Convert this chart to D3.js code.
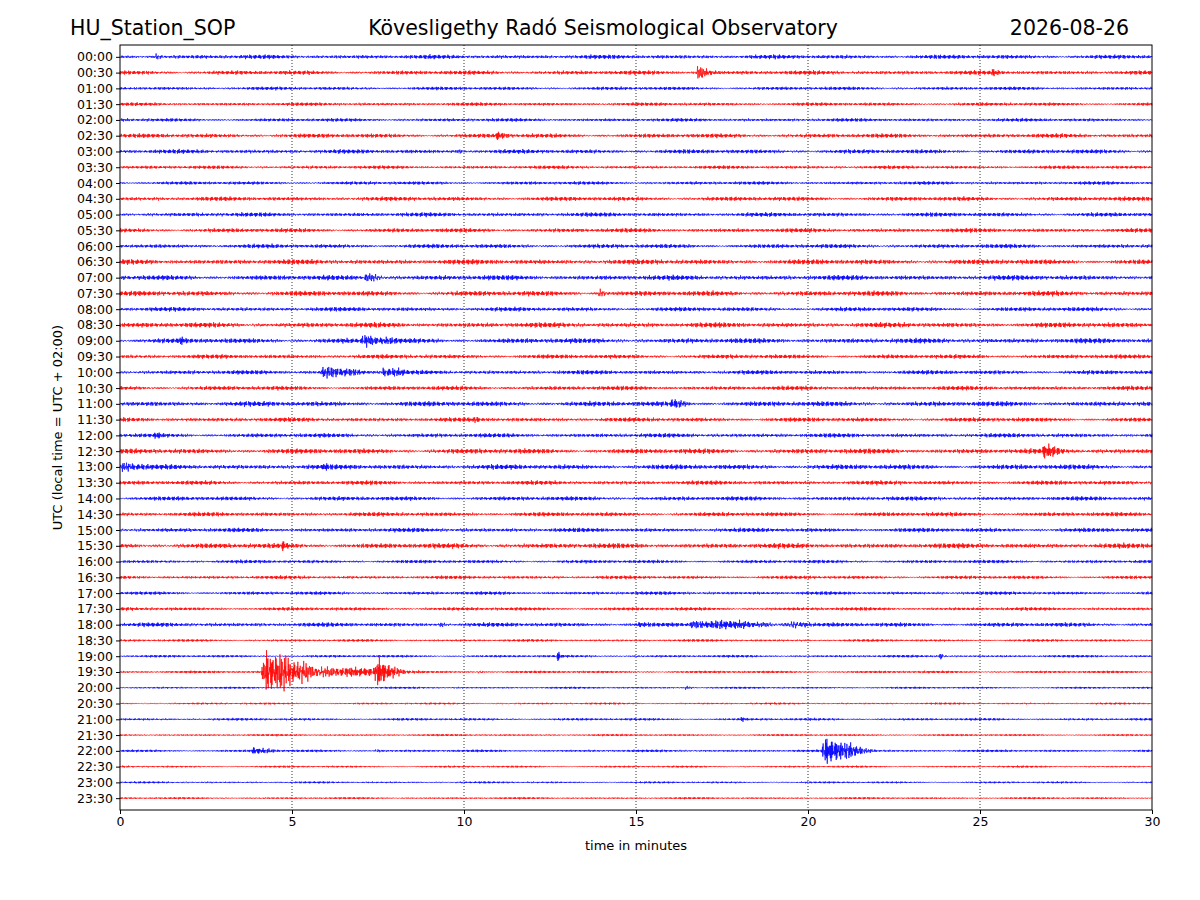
<!DOCTYPE html>
<html><head><meta charset="utf-8">
<script src="https://cdn.jsdelivr.net/npm/d3@7"></script>
<style>body{margin:0;background:#fff}text{font-family:"DejaVu Sans",sans-serif}</style>
</head><body><div id="chart"></div>
<script>
// row labels (UTC), every 30 minutes
var rowLabels = d3.range(48).map(function(i){return d3.format("02")(Math.floor(i/2))+":"+(i%2?"30":"00");});
var xTicks = [0,5,10,15,20,25,30];
// background noise level per row (pixels)
var noiseLevel = [2.5,2.5,2,2,2,2.5,2.5,2,2,2.5,2.5,2.5,2.5,3,3,3,2.5,3,3,2.5,2.5,2.5,3,2.5,
                  2.5,3,3,2.5,2.5,2.5,2.5,3,2,2,2,2,2.5,1.5,1.5,1.5,1.2,1.2,1.5,1.2,1.5,1.2,1.2,1.2];
// events: row index, start minute, peak amplitude (px), duration (min), decay power
var events = [
  [0,1.0,4,0.4,2],[1,16.75,13,0.8,2],[1,25.3,4,0.4,2],[5,10.9,6,0.6,2],[6,9.8,4,0.3,2],
  [14,7.1,9,0.9,2],[15,13.9,9,0.5,2],[18,7.0,6,1.3,1],[18,1.7,4,0.3,2],
  [20,5.8,8,1.5,1],[20,7.6,7,0.8,1],[22,16.0,6,0.8,2],[23,10.3,6,0.2,2],[24,1.0,4,0.3,2],
  [25,26.8,6,0.8,1],[26,0.0,6,0.8,1],[26,5.9,6,0.2,2],[31,4.7,6,0.3,2],
  [36,9.3,6,0.2,2],[36,15.0,4,0.5,2],[36,16.5,4,3.5,0.5],[36,19.5,6,0.6,1],
  [38,12.7,8,0.2,2],[38,23.8,9,0.3,2],
  [39,4.1,38,3.5,3],[39,4.5,8,4.5,1],[39,7.4,18,1.2,2],[39,10.4,6,0.3,2],
  [40,16.4,3,0.4,2],[42,18.0,3,0.3,2],[44,3.8,4,1.0,1],[44,7.4,3,0.4,2],
  [44,20.4,15,1.2,0.5],[44,21.1,6,1.0,1]
];

var W=1200,H=900,m={l:120,r:48,t:45,b:90};
var svg=d3.select("#chart").append("svg").attr("width",W).attr("height",H);
var x=d3.scaleLinear().domain([0,30]).range([m.l,W-m.r]);
var y=d3.scaleLinear().domain([-0.75,47.75]).range([m.t,H-m.b]);

// vertical dotted grid
svg.selectAll(".grid").data([5,10,15,20,25]).enter().append("line")
  .attr("x1",function(d){return x(d);}).attr("x2",function(d){return x(d);})
  .attr("y1",m.t).attr("y2",H-m.b).attr("stroke","#000").attr("stroke-width",0.8)
  .attr("stroke-dasharray","1,2");

function envelope(row,t){
  var e=noiseLevel[row];
  events.forEach(function(ev){
    if(ev[0]!==row)return;
    var dt=t-ev[1];
    if(dt<0||dt>ev[3])return;
    var rise=Math.min(1,dt/(0.04*ev[3]+0.02));
    e+=ev[2]*rise*Math.pow(1-dt/ev[3],ev[4]);
  });
  return e;
}
var N=3000;
var line=d3.line().x(function(d){return x(d[0]);}).y(function(d){return d[1];});
rowLabels.forEach(function(lab,r){
  var y0=y(r),pts=[];
  for(var i=0;i<=N;i++){
    var t=30*i/N;
    var c=0.35*Math.sin(i*2.913+r)+0.3*Math.sin(i*1.871+r*2.7)*Math.sin(i*0.047+r)
         +0.3*Math.sin(i*3.377+r*0.9)*Math.sin(i*0.019+r*1.3)+0.15*Math.sin(i*0.71+r*0.4);
    pts.push([t,y0+envelope(r,t)*c]);
  }
  svg.append("path").attr("d",line(pts)).attr("fill","none")
    .attr("stroke",r%2?"#ff0000":"#0000ff").attr("stroke-width",0.7);
});

// axes
svg.append("rect").attr("x",m.l).attr("y",m.t).attr("width",W-m.l-m.r).attr("height",H-m.t-m.b)
  .attr("fill","none").attr("stroke","#000");
var xa=svg.append("g").attr("transform","translate(0,"+(H-m.b)+")")
  .call(d3.axisBottom(x).tickValues(xTicks).tickSize(4).tickSizeOuter(0));
var ya=svg.append("g").attr("transform","translate("+m.l+",0)")
  .call(d3.axisLeft(y).tickValues(d3.range(48)).tickFormat(function(d){return rowLabels[d];}).tickSize(4).tickSizeOuter(0));
[xa,ya].forEach(function(g){g.select(".domain").remove();g.selectAll("text").attr("font-size",12.5).attr("fill","#000");});

svg.append("text").attr("x",(m.l+W-m.r)/2).attr("y",850).attr("text-anchor","middle").attr("font-size",13).text("time in minutes");
svg.append("text").attr("transform","translate(62,"+((m.t+H-m.b)/2)+") rotate(-90)").attr("text-anchor","middle").attr("font-size",13).text("UTC (local time = UTC + 02:00)");
svg.append("text").attr("x",70).attr("y",35).attr("font-size",20.5).text("HU_Station_SOP");
svg.append("text").attr("x",603).attr("y",35).attr("text-anchor","middle").attr("font-size",20.5).text("Kövesligethy Radó Seismological Observatory");
svg.append("text").attr("x",1129).attr("y",35).attr("text-anchor","end").attr("font-size",20.5).text("2026-08-26");
</script></body></html>
